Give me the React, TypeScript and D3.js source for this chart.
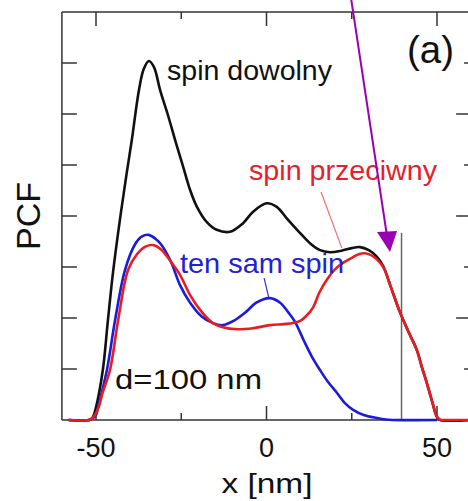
import React from "react";
import * as d3 from "d3";

// ---- data (x in nm, PCF in arbitrary units) ----
const xTicks = [-50, -25, 0, 25, 50];
const xTickLabels = ["-50", "", "0", "", "50"];
const yTicks = [0, 1, 2, 3, 4, 5, 6, 7, 8];

const anySpin: [number, number][] = [
  [-58, 0], [-52, 0], [-51, 0.05], [-50, 0.25], [-48, 0.98], [-46.5, 1.96], [-45, 2.9], [-43, 3.92],
  [-41, 4.84], [-39.5, 5.49], [-37.4, 6.47], [-36, 6.88], [-34.5, 7.04], [-33, 6.92],
  [-31.2, 6.47], [-29, 6.0], [-26.8, 5.49], [-24.5, 4.98], [-22.4, 4.51], [-20.4, 4.18],
  [-17.5, 3.88], [-14.6, 3.73], [-10.7, 3.69], [-7, 3.85], [-4, 4.08], [0, 4.25],
  [3, 4.18], [6, 3.95], [9.8, 3.67], [13, 3.45], [15.7, 3.33], [18.6, 3.29], [22, 3.32],
  [25, 3.37], [27.4, 3.39], [30, 3.33], [32.4, 3.2], [34.2, 3.02], [36.5, 2.6],
  [39.1, 2.12], [41.5, 1.75], [44.1, 1.37], [45.5, 1.05], [47, 0.73], [48.5, 0.38],
  [50, 0.06], [51, 0], [60, 0],
];

const sameSpin: [number, number][] = [
  [-58, 0], [-52, 0], [-51, 0.03], [-50, 0.1], [-49.4, 0.25], [-46.8, 0.98], [-44.4, 1.96],
  [-41.5, 2.94], [-38.5, 3.45], [-36.5, 3.6], [-34.5, 3.63], [-32.5, 3.55], [-31, 3.45],
  [-28, 3.1], [-25.4, 2.65], [-22.4, 2.3], [-19, 2.03], [-15.7, 1.9], [-12.8, 1.86],
  [-9.5, 1.95], [-6, 2.12], [-3, 2.3], [1, 2.39], [4, 2.3], [6.5, 2.1], [8.4, 1.92],
  [11, 1.55], [13.5, 1.22], [15.7, 0.98], [18, 0.75], [20.7, 0.53], [23, 0.33],
  [25.4, 0.2], [28.5, 0.1], [32.4, 0.04], [35, 0.01], [37, 0], [50, 0],
];

const oppositeSpin: [number, number][] = [
  [-58, 0], [-52, 0], [-51, 0.04], [-49.4, 0.22], [-48, 0.55], [-45.9, 0.98], [-43.5, 1.96],
  [-40.6, 2.94], [-38, 3.25], [-35.5, 3.4], [-33.3, 3.43], [-31, 3.35], [-28, 3.1],
  [-25.4, 2.85], [-22.4, 2.45], [-19, 2.12], [-15.7, 1.9], [-12.8, 1.82], [-8.7, 1.78],
  [-4, 1.8], [1, 1.86], [5, 1.88], [7.8, 1.9], [10, 1.95], [11.5, 2.03], [13.6, 2.2],
  [15.5, 2.5], [17.7, 2.75], [20, 2.95], [22.4, 3.08], [25, 3.18], [27, 3.25],
  [28.9, 3.27], [31, 3.22], [34.2, 3.0], [36.5, 2.6], [39.1, 2.12], [41.5, 1.75],
  [44.1, 1.37], [45.5, 1.05], [47, 0.73], [48.5, 0.38], [50, 0.06], [51, 0], [52, 0], [60, 0],
];

const W = 468;
const H = 501;
const FONT = "'Liberation Sans', Arial, Helvetica, sans-serif";

export default function App() {
  const x = d3.scaleLinear().domain([-60, 60]).range([61.9, 471.1]);
  const y = d3.scaleLinear().domain([0, 8]).range([420, 12]);
  const line = d3
    .line<[number, number]>()
    .x((d) => x(d[0]))
    .y((d) => Math.min(y(d[1]), 420))
    .curve(d3.curveCatmullRom.alpha(0.5));

  const left = x(-60);
  const right = x(60);
  const top = y(8);
  const bottom = y(0);

  return (
    <svg
      width={W}
      height={H}
      style={{ position: "absolute", left: 0, top: 0, background: "#fff" }}
      fontFamily={FONT}
    >
      <defs>
        <clipPath id="plot">
          <rect x={left} y={top - 2} width={right - left} height={bottom - top + 4} />
        </clipPath>
      </defs>

      {/* frame */}
      <g stroke="#333" strokeWidth={1.5} fill="none">
        <line x1={left} y1={top} x2={right} y2={top} />
        <line x1={left} y1={bottom} x2={right} y2={bottom} />
        <line x1={left} y1={top} x2={left} y2={bottom} />
        <line x1={right} y1={top} x2={right} y2={bottom} />
        {xTicks.map((t, i) => {
          const len = xTickLabels[i] ? 14 : 7;
          return (
            <g key={"xt" + t}>
              <line x1={x(t)} x2={x(t)} y1={bottom} y2={bottom - len} />
              <line x1={x(t)} x2={x(t)} y1={top} y2={top + len} />
            </g>
          );
        })}
        {yTicks.slice(1, -1).map((t, i) => (
          <g key={"yt" + t}>
            <line x1={left} x2={left + 15} y1={y(t)} y2={y(t)} />
            <line x1={right} x2={right - (i % 2 === 0 ? 7 : 15)} y1={y(t)} y2={y(t)} />
          </g>
        ))}
      </g>

      {/* vertical marker */}
      <line x1={x(39.6)} x2={x(39.6)} y1={y(0)} y2={y(3.67)} stroke="#666" strokeWidth={1.5} />

      {/* curves */}
      <g clipPath="url(#plot)" fill="none" strokeWidth={2.6} strokeLinejoin="round">
        <path d={line(anySpin) || ""} stroke="#111" />
        <path d={line(sameSpin) || ""} stroke="#1c1cd8" />
        <path d={line(oppositeSpin) || ""} stroke="#ea1c22" />
      </g>

      {/* pointer lines */}
      <line x1={x(16.0)} y1={y(4.47)} x2={x(22.1)} y2={y(3.37)} stroke="#f07070" strokeWidth={1.2} />
      <line x1={x(-0.7)} y1={y(2.78)} x2={x(0.7)} y2={y(2.39)} stroke="#3333cc" strokeWidth={1.2} />

      {/* labels */}
      <text x={167} y={80} fontSize={28} fill="#111" textLength={165} lengthAdjust="spacingAndGlyphs">
        spin dowolny
      </text>
      <text x={249} y={180} fontSize={28} fill="#e8202a" textLength={188} lengthAdjust="spacingAndGlyphs">
        spin przeciwny
      </text>
      <text x={180} y={273} fontSize={28} fill="#2222d4" textLength={164} lengthAdjust="spacingAndGlyphs">
        ten sam spin
      </text>
      <text x={115} y={389} fontSize={28} fill="#111" textLength={147} lengthAdjust="spacingAndGlyphs">
        d=100 nm
      </text>
      <text x={407} y={63} fontSize={38} fill="#111" textLength={47} lengthAdjust="spacingAndGlyphs">
        (a)
      </text>

      {/* tick labels */}
      {xTicks.map((t, i) =>
        xTickLabels[i] ? (
          <text key={"xl" + t} x={x(t)} y={457} fontSize={27} fill="#111" textAnchor="middle">
            {xTickLabels[i]}
          </text>
        ) : null
      )}
      <text x={267} y={493} fontSize={28} fill="#111" textAnchor="middle" textLength={91} lengthAdjust="spacingAndGlyphs">
        x [nm]
      </text>
      <text
        transform="translate(40,216) rotate(-90)"
        fontSize={34}
        fill="#111"
        textAnchor="middle"
      >
        PCF
      </text>

      {/* purple arrow */}
      <line x1={351} y1={-2} x2={387} y2={236} stroke="#9a00b4" strokeWidth={2} />
      <path d="M377,232 L397,231 L390,252 Z" fill="#9a00b4" />
    </svg>
  );
}
